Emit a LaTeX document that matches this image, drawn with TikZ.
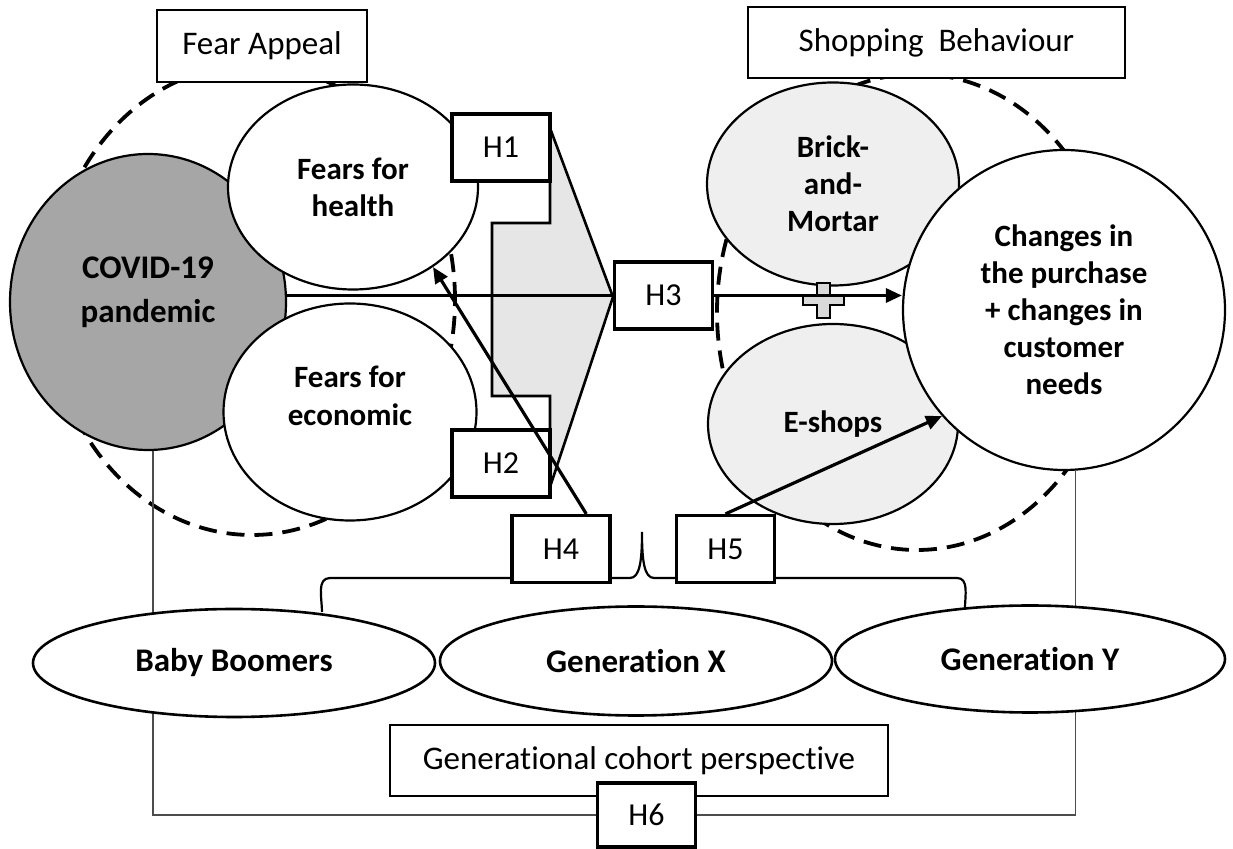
\documentclass[tikz,border=0pt]{standalone}
\usepackage{fontspec}
\setmainfont{Carlito}[Ligatures=NoCommon]
\usetikzlibrary{shapes.geometric,arrows.meta,calc}
\newcommand*{\hbw}{49pt}
\newcommand*{\hbh}{33.5pt}
\definecolor{covidgray}{HTML}{A6A6A6}
\definecolor{shopgray}{HTML}{EFEFEF}
\definecolor{wedgegray}{HTML}{E6E6E6}
\definecolor{plusgray}{HTML}{D9D9D9}
\tikzset{
  oval/.style={ellipse, draw, line width=1.1pt, inner sep=0pt, align=center,
    font=\bfseries\fontsize{15.5}{18.5}\selectfont},
  ovaltext/.style={align=center, font=\bfseries\fontsize{15.5}{19}\selectfont},
  genoval/.style={oval, fill=white, line width=1.3pt, font=\bfseries\fontsize{16.5}{20}\selectfont},
  hypbox/.style={rectangle, draw, fill=white, line width=1.6pt, minimum width=\hbw,
    minimum height=\hbh, font=\fontsize{16}{19}\selectfont},
  titlebox/.style={rectangle, draw, fill=white, line width=0.8pt, font=\fontsize{16.5}{20}\selectfont},
  ring/.style={dash pattern=on 9pt off 5pt, line width=1.9pt},
  link/.style={line width=1.6pt},
  arr/.style={line width=1.6pt, -{Triangle[length=8pt,width=7pt]}},
  bracket/.style={line width=0.7pt, draw=black!70},
}

\begin{document}
\begin{tikzpicture}[x=0.5pt, y=-0.5pt]
    \useasboundingbox (0,0) rectangle (1233,849);
    \draw [ring] (252,300) ellipse [x radius=101.5pt, y radius=117.5pt];
    \draw [ring] (917,312) ellipse [x radius=100pt, y radius=119pt];

    \node [oval, fill=covidgray, minimum width=138pt, minimum height=148pt] (covid) at (148,302) {};
    \node [ovaltext, font=\bfseries\fontsize{16.5}{22}\selectfont] (covidtext) at (148,292) {COVID-19\\pandemic};
    \node [oval, fill=white, minimum width=125pt, minimum height=102.5pt] (health) at (353,187) {Fears for\\health};
    \node [oval, fill=white, minimum width=126.5pt, minimum height=108.5pt] (econ) at (350,412) {};
    \node [ovaltext] (econtext) at (350,396) {Fears for\\economic};
    \node [oval, fill=shopgray, minimum width=126pt, minimum height=101.5pt] (brick) at (833,184) {Brick-\\and-\\Mortar};
    \node [oval, fill=shopgray, minimum width=125pt, minimum height=100pt] (eshops) at (833,424) {E-shops};
    \filldraw [fill=plusgray, line width=0.8pt] (817,283) -- (830,283) -- (830,295) -- (844,295) -- (844,305) -- (830,305)
        -- (830,318) -- (817,318) -- (817,305) -- (803,305) -- (803,295) -- (817,295) -- cycle;
    \node [oval, fill=white, minimum width=161pt, minimum height=160pt] (changes) at (1064,310)
        {Changes in\\the purchase\\+ changes in\\customer\\needs};

    \filldraw [fill=wedgegray, line width=1.3pt] (550,128) -- (613,297) -- (550,487) -- (550,396) -- (492,396)
        -- (492,223) -- (550,223) -- cycle;

    \node [titlebox, minimum width=105pt, minimum height=36pt] (fear) at (262,46) {Fear Appeal};
    \node [titlebox, minimum width=188.5pt, minimum height=35.5pt] (shop) at (936.5,42.5) {Shopping~ Behaviour};

    \draw [line width=1.1pt] (322,612) to[out=90,in=180] (330,578) -- (630,578)
        .. controls (640,578) and (642,560) .. (642,532) .. controls (642,560) and (644,578) .. (654,578)
        -- (957,578) to[out=0,in=90] (965,608);

    \node [hypbox] (hone)   at (501,147.5) {H1};
    \node [hypbox] (htwo)   at (501,463.5) {H2};
    \node [hypbox] (hthree) at (663.5,295.5) {H3};
    \node [hypbox] (hfour)  at (561,549) {H4};
    \node [hypbox] (hfive)  at (725.5,549) {H5};

    \node [titlebox, minimum width=249pt, minimum height=35.5pt] (cohort) at (639,760.5) {Generational cohort perspective};
    \node [hypbox, minimum height=32pt] (hsix) at (646.5,815) {H6};
    \draw [bracket] (covid.272) |- (hsix.west);
    \draw [bracket] (changes.274) |- (hsix.east);

    \node [genoval, minimum width=201pt, minimum height=54pt] (boomers) at (234,663) {Baby Boomers};
    \node [genoval, minimum width=196pt, minimum height=54.5pt] (genx) at (636,661) {Generation X};
    \node [genoval, minimum width=195pt, minimum height=53.5pt] (geny) at (1030,659) {Generation Y};

    \draw [link] (hthree.west -| covid.east) -- (hthree.west);
    \draw [arr] (hthree.east) -- (hthree.east -| changes.west);
    \draw [arr] ($(hfour.north west)!0.75!(hfour.north east)$) -- (health.-45);
    \draw [arr] (hfive.north) -- (changes.221);
\end{tikzpicture}
\end{document}
